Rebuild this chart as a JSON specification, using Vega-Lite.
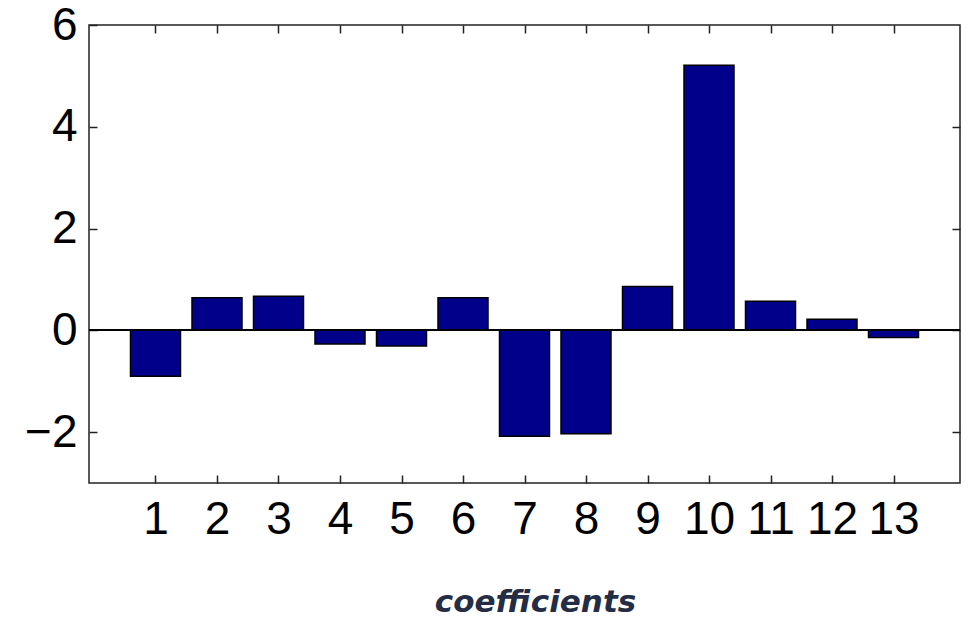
{
  "$schema": "https://vega.github.io/schema/vega-lite/v6.json",
  "autosize": {"type": "none"},
  "padding": {"left": 89, "top": 25, "right": 9, "bottom": 134},
  "width": 871,
  "height": 458,
  "background": "white",
  "config": {
    "view": {"stroke": "#222222", "strokeWidth": 1.5},
    "axis": {"grid": false, "domain": false, "tickColor": "#222222", "tickWidth": 1.5, "tickSize": -8, "labelFont": "Liberation Sans", "labelFontSize": 46, "labelColor": "#000000"}
  },
  "data": {
    "values": [
      {"coef": 1, "value": -0.9},
      {"coef": 2, "value": 0.64},
      {"coef": 3, "value": 0.67},
      {"coef": 4, "value": -0.27},
      {"coef": 5, "value": -0.31},
      {"coef": 6, "value": 0.64},
      {"coef": 7, "value": -2.08},
      {"coef": 8, "value": -2.03},
      {"coef": 9, "value": 0.86},
      {"coef": 10, "value": 5.21},
      {"coef": 11, "value": 0.57},
      {"coef": 12, "value": 0.22},
      {"coef": 13, "value": -0.14}
    ]
  },
  "layer": [
    {
      "mark": {"type": "bar", "width": 50, "color": "#00008B", "stroke": "#000000", "strokeWidth": 1.5},
      "encoding": {
        "x": {"field": "coef", "type": "quantitative", "scale": {"domain": [0, 14], "nice": false},
          "axis": {"orient": "bottom", "values": [1,2,3,4,5,6,7,8,9,10,11,12,13], "labelPadding": 22, "labelFlush": false,
            "title": "coefficients", "titleFont": "DejaVu Sans", "titleFontSize": 31, "titleFontWeight": "bold", "titleFontStyle": "italic", "titleColor": "#252d45",
            "titleX": 446, "titleY": 128, "titleBaseline": "alphabetic", "titleAlign": "center"}},
        "y": {"field": "value", "type": "quantitative", "scale": {"domain": [-3, 6], "nice": false, "zero": false},
          "axis": {"orient": "left", "values": [-2, 0, 2, 4, 6], "labelPadding": 20, "title": null, "labelFlush": false}}
      }
    },
    {
      "mark": {"type": "rule", "color": "#000000", "strokeWidth": 1.5},
      "encoding": {"y": {"datum": 0, "type": "quantitative", "axis": null}}
    },
    {
      "mark": {"type": "point", "opacity": 0},
      "encoding": {
        "x": {"field": "coef", "type": "quantitative",
          "axis": {"orient": "top", "values": [1,2,3,4,5,6,7,8,9,10,11,12,13], "labels": false, "title": null}},
        "y": {"field": "value", "type": "quantitative",
          "axis": {"orient": "right", "values": [-2, 0, 2, 4], "labels": false, "title": null}}
      }
    }
  ],
  "resolve": {"axis": {"x": "independent", "y": "independent"}}
}
